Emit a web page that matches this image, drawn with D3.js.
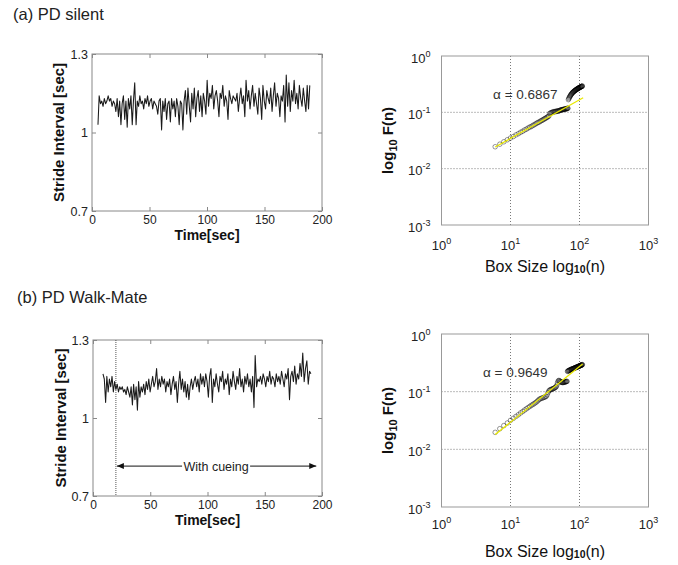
<!DOCTYPE html>
<html><head><meta charset="utf-8">
<script src="https://cdn.jsdelivr.net/npm/d3@7"></script>
<style>
body{margin:0;background:#fff}
svg{display:block}
text{font-family:"Liberation Sans",Arial,sans-serif}
</style>
</head><body>
<svg id="chart" width="678" height="565"></svg>
<script>
// ---------------- DATA ----------------
// Stride intervals [sec], one value per stride (time = cumulative sum)
const strideSilent = [
 1.03,1.14,1.11,1.12,1.10,1.13,1.11,1.12,1.14,1.12,1.13,1.10,1.12,1.11,
 1.08,1.13,1.06,1.12,1.03,1.11,1.14,1.05,1.12,1.02,1.13,1.09,1.14,1.03,1.12,
 1.19,1.03,1.12,
 1.10,1.14,1.11,1.12,1.09,1.13,1.11,1.14,1.10,1.12,1.13,1.09,1.12,1.11,1.10,1.07,1.12,1.13,
 1.01,1.12,1.08,1.13,1.05,1.11,1.12,1.04,1.13,1.09,1.12,1.06,1.13,1.10,1.03,1.12,1.11,1.01,
 1.12,1.16,1.07,1.17,1.10,1.04,1.15,1.09,1.17,1.06,1.13,1.16,1.08,1.14,1.06,1.15,1.12,1.07,
 1.20,1.10,1.15,
 1.13,1.18,1.09,1.14,1.16,1.12,1.06,1.15,1.13,1.18,1.10,1.14,1.12,1.05,1.16,1.13,1.11,1.14,1.13,1.12,1.15,1.08,1.13,1.17,1.11,1.14,1.06,1.20,1.12,1.16,1.09,1.14,1.18,
 1.10,1.15,1.11,1.07,1.17,1.13,1.05,1.18,1.12,1.09,1.16,1.13,1.11,1.17,1.08,1.14,1.19,1.10,1.15,1.13,1.06,1.14,1.12,1.18,1.04,1.22,1.10,1.19,1.08,1.16,1.12,1.20,1.11,1.15,1.09,1.18,1.13,1.10,1.17,1.12,1.08,1.18,1.09,1.18
];
const strideWalkMate = [
 1.17,1.15,1.06,1.16,1.10,1.15,1.12,1.16,1.10,1.14,1.11,
 1.13,1.10,1.12,1.11,1.12,1.10,1.11,1.09,1.12,1.10,1.08,1.12,1.05,
 1.13,1.07,1.12,1.03,1.14,1.08,1.12,1.10,
 1.13,1.09,1.14,1.11,1.15,1.10,1.13,1.16,1.12,1.14,1.19,1.11,1.15,1.12,1.16,1.13,1.15,1.10,1.14,1.12,1.15,1.09,1.13,1.16,1.11,1.14,
 1.06,1.13,1.18,1.11,1.15,1.10,1.14,1.08,1.13,1.07,1.12,1.15,1.11,1.14,1.16,1.12,1.15,1.10,1.17,
 1.13,1.16,1.12,1.17,1.14,1.08,1.16,1.19,1.06,1.15,1.12,1.17,1.13,1.10,1.16,1.14,1.18,1.11,1.15,1.13,1.17,1.09,1.15,1.12,1.18,1.14,1.11,1.16,1.13,1.19,1.12,1.15,1.10,1.16,
 1.13,1.17,1.12,1.15,1.10,1.16,1.04,1.24,1.12,1.15,
 1.14,1.16,1.13,1.17,1.15,1.12,1.16,1.14,1.18,1.13,1.16,1.15,1.12,1.17,1.14,1.16,1.13,1.18,1.15,1.12,1.17,1.15,
 1.19,1.07,1.16,1.18,1.14,1.20,1.13,1.17,1.15,1.21,1.16,1.25,1.14,1.19,1.22,1.13,1.18,1.17
];
const startSilent = 5.2, startWalkMate = 8.7;   // time of first stride [sec]
const timeTicks = [0, 50, 100, 150, 200];
const strideTicks = [0.7, 1, 1.3];
const strideTickLabels = ["0.7", "1", "1.3"];
const cueStart = 20, cueEnd = 195, cueLevel = 0.815;

// DFA: box sizes n and fluctuation F(n)
const boxSizes = [6,7,8,9,10,11,12,13,14,15,16,17,18,19,20,21,22,23,24,25,26,27,28,29,30,
 31,32,33,34,35,36,37,38,39,40,41,42,43,44,45,46,47,48,49,50,51,52,53,54,55,56,57,58,59,60,
 61,62,63,64,65,66,67,68,69,70,71,72,73,74,75,76,77,78,79,80,81,82,83,84,85,86,87,88,89,90,
 91,92,93,94,95,96,97,98,99,100,101,102,103,104,105,106,107,108,109,110];
const fluctSilent = [
 0.0245,0.0272,0.0300,0.0326,0.0350,0.0372,0.0398,0.0418,0.0442,0.0461,0.0486,0.0503,0.0527,0.0546,0.0560,
 0.0583,0.0601,0.0622,0.0641,0.0660,0.0672,0.0695,0.0712,0.0728,0.0745,0.0768,0.0781,0.0802,0.0818,0.0840,0.0862,
 0.0955,0.0972,0.0985,0.1002,0.1010,0.1025,0.1018,0.1032,0.1041,0.1036,0.1049,0.1058,0.1050,0.1062,0.1071,0.1080,
 0.1095,0.1102,0.1110,0.1118,0.1112,0.1125,0.1131,0.1128,0.1140,0.1146,0.1150,0.1158,0.1162,0.1170,0.1175,0.1182,
 0.168,0.175,0.182,0.188,0.194,0.199,0.204,0.209,0.213,0.218,0.222,0.226,0.229,0.232,0.235,0.238,0.241,0.244,0.246,0.249,
 0.251,0.254,0.256,0.258,0.261,0.263,0.265,0.267,0.269,0.271,0.273,0.275,0.277,0.279,0.281,0.283,0.284,0.286,0.288,0.289,0.291,0.293
];
const fluctWalkMate = [
 0.0197,0.0228,0.0258,0.0286,0.0318,0.0345,0.0372,0.0398,0.0428,0.0452,0.0480,0.0505,0.0530,0.0553,0.0578,
 0.0598,0.0620,0.0645,0.0668,0.0700,0.0735,0.0752,0.0768,0.0775,0.0790,0.0802,0.0815,0.0832,0.0880,0.0965,0.1030,
 0.1065,0.1080,0.1095,0.1108,0.1120,0.1135,0.1150,0.1172,0.1195,0.1220,0.1300,0.1420,0.1520,0.1565,0.1550,0.1520,
 0.1490,0.1470,0.1455,0.1445,0.1440,0.1445,0.1452,0.1460,0.1470,0.1480,0.1488,0.1495,0.1502,0.1510,
 0.2250,0.2275,0.2300,0.2320,0.2340,0.2360,0.2380,0.2400,0.2420,0.2435,0.2450,0.2465,0.2480,0.2495,0.2510,0.2525,
 0.2540,0.2555,0.2570,0.2585,0.2600,0.2615,0.2630,0.2645,0.2660,0.2675,0.2690,0.2705,0.2720,0.2735,0.2750,0.2765,
 0.2780,0.2795,0.2810,0.2825,0.2840,0.2855,0.2870,0.2885,0.2900,0.2915,0.2930,0.2945
];
const alphaSilent = 0.6867, alphaWalkMate = 0.9649;
const fitStartF = [0.0242, 0.018];     // fitted F at first box size
const fitEndN = [113, 111];
const logXTicks = [1, 10, 100, 1000], logXExp = ["0","1","2","3"];
const logYTicks = [1, 0.1, 0.01, 0.001], logYExp = ["0","-1","-2","-3"];

// ---------------- LAYOUT ----------------
const panels = [
 { title:"(a) PD silent", tx:13, ty:19.5, strides:strideSilent, start:startSilent,
   ts:{x0:92,x1:322,y0:54,y1:211, xlabY:239.5, ylabX:64},
   fluct:fluctSilent, alpha:alphaSilent, fitF0:fitStartF[0], fitN1:fitEndN[0],
   dfa:{x0:441.5,x1:648.5,y0:56,y1:225, xtickOff:25, xlabY:271.5, ylabX:392.5},
   alphaPos:[5.6,0.172], cue:false },
 { title:"(b) PD Walk-Mate", tx:17, ty:303, strides:strideWalkMate, start:startWalkMate,
   ts:{x0:93,x1:322,y0:340,y1:496, xlabY:524.5, ylabX:65.5},
   fluct:fluctWalkMate, alpha:alphaWalkMate, fitF0:fitStartF[1], fitN1:fitEndN[1],
   dfa:{x0:441.5,x1:648.5,y0:334,y1:507, xtickOff:22, xlabY:556.5, ylabX:392.5},
   alphaPos:[4.0,0.182], cue:true }
];

const svg = d3.select("#chart");
svg.append("rect").attr("width",678).attr("height",565).attr("fill","#fff");

function styleAxis(g, fs){
  g.attr("font-family",null).attr("font-size",null);
  g.select(".domain").remove();
  g.selectAll(".tick line").attr("stroke","#888");
  g.selectAll(".tick text").attr("fill","#222").style("font-size",fs+"px");
}

panels.forEach(p => {
  // title
  svg.append("text").attr("x",p.tx).attr("y",p.ty).attr("font-size",16.5).attr("fill","#222").text(p.title);

  // ---------- time series ----------
  const L = p.ts;
  const x = d3.scaleLinear().domain([0,200]).range([L.x0,L.x1]);
  const y = d3.scaleLinear().domain([0.7,1.3]).range([L.y1,L.y0]);
  const g = svg.append("g");
  let t = p.start;
  const pts = p.strides.map(v => { const r=[t,v]; t+=v; return r; });

  styleAxis(g.append("g").attr("transform",`translate(0,${L.y1})`)
    .call(d3.axisBottom(x).tickValues(timeTicks).tickSize(-4).tickPadding(4).tickFormat(d3.format("d"))), 12);
  styleAxis(g.append("g").attr("transform",`translate(0,${L.y0})`)
    .call(d3.axisTop(x).tickValues(timeTicks).tickSize(-4).tickFormat("")), 12);
  styleAxis(g.append("g").attr("transform",`translate(${L.x0},0)`)
    .call(d3.axisLeft(y).tickValues(strideTicks).tickSize(-4).tickPadding(4).tickFormat((d,i)=>strideTickLabels[i])), 12.5);
  styleAxis(g.append("g").attr("transform",`translate(${L.x1},0)`)
    .call(d3.axisRight(y).tickValues(strideTicks).tickSize(-4).tickFormat("")), 12);
  g.append("rect").attr("x",L.x0).attr("y",L.y0).attr("width",L.x1-L.x0).attr("height",L.y1-L.y0)
    .attr("fill","none").attr("stroke","#888");

  if(p.cue){
    g.append("line").attr("x1",x(cueStart)).attr("x2",x(cueStart)).attr("y1",L.y0).attr("y2",L.y1)
      .attr("stroke","#444").attr("stroke-dasharray","1,1").attr("stroke-width",0.9);
  }
  g.append("path").datum(pts)
    .attr("d", d3.line().x(d=>x(d[0])).y(d=>y(d[1])))
    .attr("fill","none").attr("stroke","#1a1a1a").attr("stroke-width",1.05).attr("stroke-linejoin","round");

  if(p.cue){
    const ay = y(cueLevel);
    const xa = x(cueStart)+1, xb = x(cueEnd);
    g.append("line").attr("x1",xa).attr("x2",xb).attr("y1",ay).attr("y2",ay).attr("stroke","#111").attr("stroke-width",1);
    g.append("path").attr("d",`M${xa},${ay}l7,-3l0,6z`).attr("fill","#111");
    g.append("path").attr("d",`M${xb},${ay}l-7,-3l0,6z`).attr("fill","#111");
    const cx = x((cueStart+cueEnd)/2);
    g.append("rect").attr("x",cx-34).attr("y",ay-8).attr("width",68).attr("height",16).attr("fill","#fff");
    g.append("text").attr("x",cx).attr("y",ay+4.5).attr("text-anchor","middle").attr("font-size",12.5)
      .attr("fill","#222").text("With cueing");
  }
  // axis labels
  g.append("text").attr("x",(L.x0+L.x1)/2).attr("y",L.xlabY).attr("text-anchor","middle")
    .attr("font-size",14).attr("font-weight","bold").attr("fill","#111").text("Time[sec]");
  g.append("text").attr("transform",`translate(${L.ylabX},${(L.y0+L.y1)/2}) rotate(-90)`)
    .attr("text-anchor","middle").attr("font-size",15).attr("font-weight","bold").attr("fill","#111")
    .text("Stride Interval [sec]");

  // ---------- DFA ----------
  const D = p.dfa;
  const lx = d3.scaleLog().domain([1,1000]).range([D.x0,D.x1]);
  const ly = d3.scaleLog().domain([0.001,1]).range([D.y1,D.y0]);
  const h = svg.append("g");
  // grid
  logXTicks.slice(1,-1).forEach(v => h.append("line").attr("x1",lx(v)).attr("x2",lx(v)).attr("y1",D.y0).attr("y2",D.y1)
     .attr("stroke","#555").attr("stroke-dasharray","1,2").attr("stroke-width",0.8));
  logYTicks.slice(1,-1).forEach(v => h.append("line").attr("y1",ly(v)).attr("y2",ly(v)).attr("x1",D.x0).attr("x2",D.x1)
     .attr("stroke","#555").attr("stroke-dasharray","1,2").attr("stroke-width",0.8));
  h.append("rect").attr("x",D.x0).attr("y",D.y0).attr("width",D.x1-D.x0).attr("height",D.y1-D.y0)
    .attr("fill","none").attr("stroke","#999");
  // tick labels
  logXTicks.forEach((v,i) => {
    const tx = h.append("text").attr("x",lx(v)).attr("y",D.y1+D.xtickOff).attr("text-anchor","middle")
      .attr("font-size",13).attr("fill","#222");
    tx.append("tspan").text("10");
    tx.append("tspan").attr("dy",-6).attr("font-size",9).text(logXExp[i]);
  });
  logYTicks.forEach((v,i) => {
    const ty = h.append("text").attr("x",D.x0-11).attr("y",ly(v)+6.5).attr("text-anchor","end")
      .attr("font-size",13).attr("fill","#222");
    ty.append("tspan").text("10");
    ty.append("tspan").attr("dy",-6).attr("font-size",9).text(logYExp[i]);
  });
  // points
  h.append("g").selectAll("circle").data(boxSizes.map((n,i)=>[n,p.fluct[i]])).join("circle")
    .attr("cx",d=>lx(d[0])).attr("cy",d=>ly(d[1])).attr("r",2.3)
    .attr("fill","none").attr("stroke","#000").attr("stroke-opacity",0.5).attr("stroke-width",0.8);
  // fit line
  const n0 = boxSizes[0], n1 = p.fitN1;
  const fitPts = [[n0,p.fitF0],[n1,p.fitF0*Math.pow(n1/n0,p.alpha)]];
  h.append("path").datum(fitPts).attr("d",d3.line().x(d=>lx(d[0])).y(d=>ly(d[1])))
    .attr("stroke","#e8e800").attr("stroke-width",1.3).attr("fill","none");
  // alpha label
  h.append("text").attr("x",lx(p.alphaPos[0])).attr("y",ly(p.alphaPos[1])).attr("font-size",13.5)
    .attr("fill","#333").text("\u03b1 = " + p.alpha.toFixed(4));
  // axis labels
  const xl = h.append("text").attr("x",(D.x0+D.x1)/2).attr("y",D.xlabY).attr("text-anchor","middle")
    .attr("font-size",16).attr("fill","#111");
  xl.append("tspan").text("Box Size log");
  xl.append("tspan").attr("font-size",10.5).attr("font-weight","bold").attr("dy",1).text("10");
  xl.append("tspan").attr("dy",-1).text("(n)");
  const yl = h.append("text").attr("transform",`translate(${D.ylabX},${(D.y0+D.y1)/2}) rotate(-90)`)
    .attr("text-anchor","middle").attr("font-size",15).attr("font-weight","bold").attr("fill","#111");
  yl.append("tspan").text("log");
  yl.append("tspan").attr("font-size",11).attr("dy",4).text("10");
  yl.append("tspan").attr("dy",-4).text(" F(n)");
});
</script>
</body></html>
